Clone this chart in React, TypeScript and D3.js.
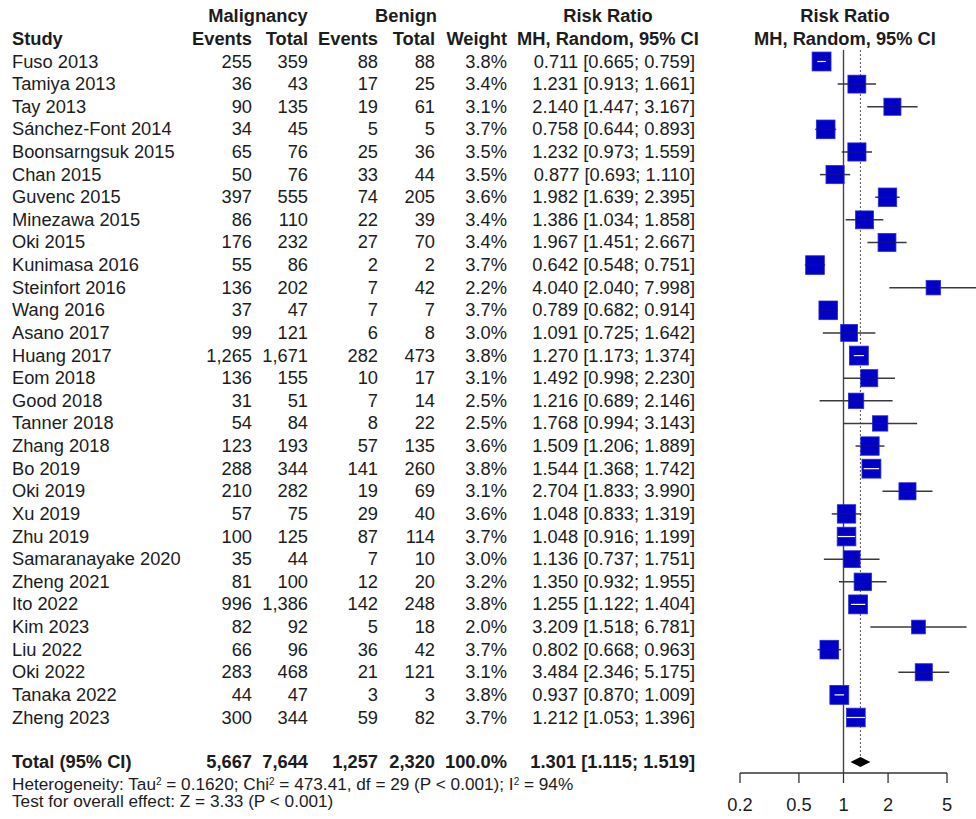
import React from "react";
import * as d3 from "d3";

const studies = ["Fuso 2013","Tamiya 2013","Tay 2013","Sánchez-Font 2014","Boonsarngsuk 2015","Chan 2015","Guvenc 2015","Minezawa 2015","Oki 2015","Kunimasa 2016","Steinfort 2016","Wang 2016","Asano 2017","Huang 2017","Eom 2018","Good 2018","Tanner 2018","Zhang 2018","Bo 2019","Oki 2019","Xu 2019","Zhu 2019","Samaranayake 2020","Zheng 2021","Ito 2022","Kim 2023","Liu 2022","Oki 2022","Tanaka 2022","Zheng 2023"];
const malEvents = ["255","36","90","34","65","50","397","86","176","55","136","37","99","1,265","136","31","54","123","288","210","57","100","35","81","996","82","66","283","44","300"];
const malTotal = ["359","43","135","45","76","76","555","110","232","86","202","47","121","1,671","155","51","84","193","344","282","75","125","44","100","1,386","92","96","468","47","344"];
const benEvents = ["88","17","19","5","25","33","74","22","27","2","7","7","6","282","10","7","8","57","141","19","29","87","7","12","142","5","36","21","3","59"];
const benTotal = ["88","25","61","5","36","44","205","39","70","2","42","7","8","473","17","14","22","135","260","69","40","114","10","20","248","18","42","121","3","82"];
const weights = [3.8,3.4,3.1,3.7,3.5,3.5,3.6,3.4,3.4,3.7,2.2,3.7,3.0,3.8,3.1,2.5,2.5,3.6,3.8,3.1,3.6,3.7,3.0,3.2,3.8,2.0,3.7,3.1,3.8,3.7];
const rr = [0.711,1.231,2.140,0.758,1.232,0.877,1.982,1.386,1.967,0.642,4.040,0.789,1.091,1.270,1.492,1.216,1.768,1.509,1.544,2.704,1.048,1.048,1.136,1.350,1.255,3.209,0.802,3.484,0.937,1.212];
const lower = [0.665,0.913,1.447,0.644,0.973,0.693,1.639,1.034,1.451,0.548,2.040,0.682,0.725,1.173,0.998,0.689,0.994,1.206,1.368,1.833,0.833,0.916,0.737,0.932,1.122,1.518,0.668,2.346,0.870,1.053];
const upper = [0.759,1.661,3.167,0.893,1.559,1.110,2.395,1.858,2.667,0.751,7.998,0.914,1.642,1.374,2.230,2.146,3.143,1.889,1.742,3.990,1.319,1.199,1.751,1.955,1.404,6.781,0.963,5.175,1.009,1.396];
const totalRow = ["Total (95% CI)","5,667","7,644","1,257","2,320","100.0%"];
const totalRR = 1.301;
const totalLower = 1.115;
const totalUpper = 1.519;
const tickValues = [0.2, 0.5, 1, 2, 5];
const tickLabels = ["0.2", "0.5", "1", "2", "5"];

const FONT = "'Liberation Sans', Arial, Helvetica, sans-serif";
const FS = 18.3;
const TXT = "#1c1c1c";

export default function App() {
  const W = 976, H = 819;
  const x = d3.scaleLog().domain([0.2, 5]).range([740, 947]);
  const y = d3.scaleLinear().domain([0, 29]).range([61.5, 717.5]);
  const yTotal = 762;
  const axisY = 773;
  const boxSize = (w: number) => 9.7 * Math.sqrt(w);
  const f3 = d3.format(".3f");
  const colRight = [252, 308, 378, 435, 507];
  const rrRight = 695;
  const rrText = (i: number) => `${f3(rr[i])} [${f3(lower[i])}; ${f3(upper[i])}]`;
  const base = (cy: number) => cy + 6;

  return (
    <svg width={W} height={H} style={{ position: "absolute", left: 0, top: 0, background: "#fff" }}
      fontFamily={FONT} fontSize={FS} fill={TXT}>
      <rect x={0} y={0} width={W} height={H} fill="#fff" />
      {/* headers */}
      <g fontWeight="bold">
        <text x={258} y={22} textAnchor="middle">Malignancy</text>
        <text x={406} y={22} textAnchor="middle">Benign</text>
        <text x={608} y={22} textAnchor="middle">Risk Ratio</text>
        <text x={12} y={45}>Study</text>
        <text x={colRight[0]} y={45} textAnchor="end">Events</text>
        <text x={colRight[1]} y={45} textAnchor="end">Total</text>
        <text x={colRight[2]} y={45} textAnchor="end">Events</text>
        <text x={colRight[3]} y={45} textAnchor="end">Total</text>
        <text x={colRight[4]} y={45} textAnchor="end">Weight</text>
        <text x={608} y={45} textAnchor="middle">MH, Random, 95% CI</text>
        <text x={845} y={22} textAnchor="middle">Risk Ratio</text>
        <text x={845} y={45} textAnchor="middle">MH, Random, 95% CI</text>
      </g>
      {/* study rows */}
      {studies.map((s, i) => {
        const cy = y(i);
        const b = base(cy);
        return (
          <g key={s + i}>
            <text x={12} y={b}>{s}</text>
            <text x={colRight[0]} y={b} textAnchor="end">{malEvents[i]}</text>
            <text x={colRight[1]} y={b} textAnchor="end">{malTotal[i]}</text>
            <text x={colRight[2]} y={b} textAnchor="end">{benEvents[i]}</text>
            <text x={colRight[3]} y={b} textAnchor="end">{benTotal[i]}</text>
            <text x={colRight[4]} y={b} textAnchor="end">{weights[i].toFixed(1)}%</text>
            <text x={rrRight} y={b} textAnchor="end">{rrText(i)}</text>
          </g>
        );
      })}
      {/* total row */}
      <g fontWeight="bold">
        <text x={12} y={base(yTotal)}>{totalRow[0]}</text>
        {colRight.map((cx, k) => (
          <text key={k} x={cx} y={base(yTotal)} textAnchor="end">{totalRow[k + 1]}</text>
        ))}
        <text x={rrRight} y={base(yTotal)} textAnchor="end">{`${f3(totalRR)} [${f3(totalLower)}; ${f3(totalUpper)}]`}</text>
      </g>
      {/* heterogeneity */}
      <g fontSize={17.2}>
        <text x={12} y={790}>
          Heterogeneity: Tau<tspan baselineShift="super" fontSize={10}>2</tspan> = 0.1620; Chi<tspan baselineShift="super" fontSize={10}>2</tspan> = 473.41, df = 29 (P &lt; 0.001); I<tspan baselineShift="super" fontSize={10}>2</tspan> = 94%
        </text>
        <text x={12} y={807}>Test for overall effect: Z = 3.33 (P &lt; 0.001)</text>
      </g>
      {/* reference lines */}
      <line x1={x(1)} x2={x(1)} y1={50} y2={axisY} stroke="#444" strokeWidth={1.4} />
      <line x1={x(totalRR)} x2={x(totalRR)} y1={50} y2={yTotal - 6} stroke="#555" strokeWidth={1} strokeDasharray="2,2" />
      {/* CIs and boxes */}
      {studies.map((s, i) => {
        const cy = y(i);
        const sz = boxSize(weights[i]);
        const cx = x(rr[i]);
        const lx = x(lower[i]);
        const ux = Math.min(x(upper[i]), W);
        const inside = lx >= cx - sz / 2 && ux <= cx + sz / 2;
        return (
          <g key={"p" + i}>
            {!inside && <line x1={lx} x2={ux} y1={cy} y2={cy} stroke="#3a3a3a" strokeWidth={1.5} />}
            <rect x={cx - sz / 2} y={cy - sz / 2} width={sz} height={sz} fill="#0000c8" stroke="#2a2ad0" strokeWidth={0.8} />
            {inside
              ? <line x1={lx} x2={ux} y1={cy} y2={cy} stroke="#fff" strokeWidth={1.2} />
              : <line x1={cx - sz / 2} x2={cx + sz / 2} y1={cy} y2={cy} stroke="#1a1a60" strokeWidth={1.2} opacity={0.6} />}
          </g>
        );
      })}
      {/* diamond */}
      <path d={`M${x(totalLower)},${yTotal} L${x(totalRR)},${yTotal - 5} L${x(totalUpper)},${yTotal} L${x(totalRR)},${yTotal + 5} Z`} fill="#000" />
      {/* axis */}
      <line x1={x(0.2)} x2={x(5)} y1={axisY} y2={axisY} stroke="#333" strokeWidth={1.3} />
      {tickValues.map((t, k) => (
        <g key={"t" + k}>
          <line x1={x(t)} x2={x(t)} y1={axisY} y2={axisY + 10} stroke="#333" strokeWidth={1.3} />
          <text x={x(t)} y={811} textAnchor="middle">{tickLabels[k]}</text>
        </g>
      ))}
    </svg>
  );
}
